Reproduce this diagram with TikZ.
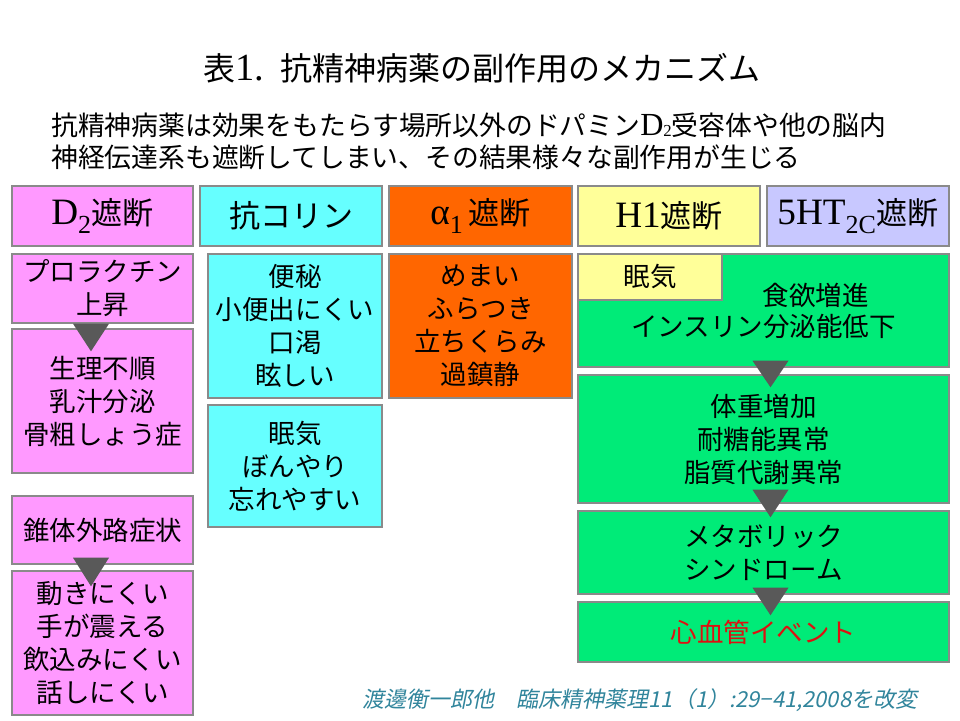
\documentclass[tikz,border=0pt]{standalone}
\usepackage{fontspec}
\setmainfont{Noto Sans CJK JP}
\newfontfamily\serif{Liberation Serif}[Scale=1.2]
\newfontfamily\citefont{Noto Sans CJK JP}[FakeSlant=0.2]
\usetikzlibrary{calc}
\definecolor{pinkc}{HTML}{FF99FF}
\definecolor{cyanc}{HTML}{66FFFF}
\definecolor{orangec}{HTML}{FF6600}
\definecolor{yellowc}{HTML}{FFFF99}
\definecolor{lavc}{HTML}{C8C8FF}
\definecolor{greenc}{HTML}{00EB78}
\definecolor{bordc}{HTML}{8A8A8A}
\definecolor{tric}{HTML}{595959}
\definecolor{redc}{HTML}{DD1111}
\definecolor{citec}{HTML}{31859C}
\tikzset{
  box/.style={draw=bordc, line width=1.4pt, inner sep=0pt, align=center,
    font=\fontsize{26.5}{33}\selectfont},
  hdr/.style={box, minimum height=60pt, font=\fontsize{31}{36}\selectfont},
  tri/.style={fill=tric, draw=none}
}
\newcommand\mytri[5]{%
  \fill[tri] ($(#1.south)+(#3-18,#4)$) -- ($(#1.south)+(#3+18,#4)$) -- ($(#2.north)+(#3,#5)$) -- cycle;}
\begin{document}
\begin{tikzpicture}[x=1pt,y=-1pt]
\useasboundingbox (0,0) rectangle (960,720);
\fill[white] (0,0) rectangle (960,720);
% title and subtitle
\node[font=\fontsize{32}{36}\selectfont] (title) at (482,68) {表{\serif 1.}\enspace 抗精神病薬の副作用のメカニズム};
\node[font=\fontsize{26.8}{32}\selectfont, align=left, anchor=west, inner sep=0pt] (sub) at (51,141)
  {抗精神病薬は効果をもたらす場所以外のドパミン{\serif D}\raisebox{-1.5pt}{\fontsize{14}{14}\selectfont\serif 2}受容体や他の脳内\\神経伝達系も遮断してしまい、その結果様々な副作用が生じる};
% headers
\node[hdr, fill=pinkc, minimum width=181pt] (d2h) at (102.5,216) {{\serif D\textsubscript{2}}遮断};
\node[hdr, fill=cyanc, minimum width=182pt] (ach) at (291,216) {抗コリン};
\node[hdr, fill=orangec, minimum width=183pt] (a1h) at (480.5,216) {{\serif α\textsubscript{1}}\,遮断};
\node[hdr, fill=yellowc, minimum width=182pt] (h1h) at (669,216) {{\serif H1}遮断};
\node[hdr, fill=lavc, minimum width=182pt] (hth) at (858,216) {{\serif 5HT\textsubscript{2C}}遮断};
% D2 column
\node[box, fill=pinkc, minimum width=181pt, minimum height=69pt] (prl) at (102.5,288.5) {プロラクチン\\上昇};
\node[box, fill=pinkc, minimum width=181pt, minimum height=144pt] (men) at (102.5,401) {生理不順\\乳汁分泌\\骨粗しょう症};
\node[box, fill=pinkc, minimum width=181pt, minimum height=68pt] (eps) at (102.5,530) {錐体外路症状};
\node[box, fill=pinkc, minimum width=181pt, minimum height=144pt] (mov) at (102.5,643) {動きにくい\\手が震える\\飲込みにくい\\話しにくい};
% anticholinergic column
\node[box, fill=cyanc, minimum width=174pt, minimum height=144pt] (ac1) at (295,326) {便秘\\小便出にくい\\口渇\\眩しい};
\node[box, fill=cyanc, minimum width=174pt, minimum height=122pt] (ac2) at (295,466) {眠気\\ぼんやり\\忘れやすい};
% alpha1 column
\node[box, fill=orangec, minimum width=183pt, minimum height=144pt] (a1b) at (480.5,326) {めまい\\ふらつき\\立ちくらみ\\過鎮静};
% H1 / 5HT2C column
\node[box, fill=greenc, minimum width=371pt, minimum height=113pt, font=\fontsize{26.5}{31}\selectfont] (g1) at (763.5,310.5) {\hspace*{104pt}食欲増進\\インスリン分泌能低下};
\node[box, fill=yellowc, minimum width=144pt, minimum height=46pt] (slp) at (650,277) {眠気};
\node[box, fill=greenc, minimum width=371pt, minimum height=128pt] (g2) at (763.5,439) {体重増加\\耐糖能異常\\脂質代謝異常};
\node[box, fill=greenc, minimum width=371pt, minimum height=83pt] (g3) at (763.5,552.5) {メタボリック\\シンドローム};
\node[box, fill=greenc, minimum width=371pt, minimum height=60pt, text=redc] (g4) at (763.5,632) {心血管イベント};
% triangles
\mytri{prl}{men}{-11.5}{0}{23}
\mytri{eps}{mov}{-11.5}{-7}{16}
\mytri{g1}{g2}{7}{-7}{13}
\mytri{g2}{g3}{7}{-14}{7}
\mytri{g3}{g4}{7}{-7}{14}
% citation
\node[font=\citefont\fontsize{22}{24}\selectfont, text=citec] (cite) at (640,700) {渡邊衡一郎他\quad 臨床精神薬理11（1）:29−41,2008を改変};
\end{tikzpicture}
\end{document}
